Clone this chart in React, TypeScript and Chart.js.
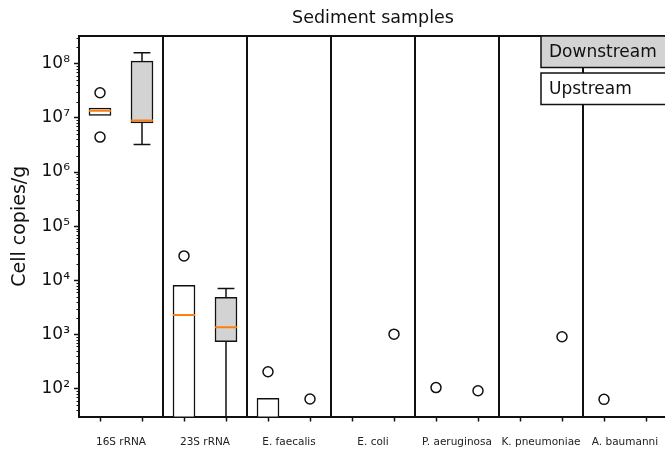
import React, { useEffect, useRef } from 'react';
import { Chart, registerables } from 'chart.js';

Chart.register(...registerables);

// ---- Data ----
const GROUPS = ['16S rRNA', '23S rRNA', 'E. faecalis', 'E. coli', 'P. aeruginosa', 'K. pneumoniae', 'A. baumanni'];
const SERIES = ['Downstream', 'Upstream'];

// Upstream (left box in each group); 1 = below the visible axis range
const UP_Q1 = [1.11e7, 1, 1, null, null, null, null];
const UP_MEDIAN = [1.35e7, 2.27e3, 20, null, null, null, null];
const UP_Q3 = [1.52e7, 8.1e3, 66, null, null, null, null];
const UP_WHISKER_LOW = [1.11e7, 1, 1, null, null, null, null];
const UP_WHISKER_HIGH = [1.52e7, 8.1e3, 66, null, null, null, null];
const UP_FLIERS = [[2.92e7, 4.42e6], [2.82e4], [204], [], [104], [], [63]];

// Downstream (right box in each group)
const DOWN_Q1 = [8.09e6, 730, null, null, null, null, null];
const DOWN_MEDIAN = [9.0e6, 1.35e3, null, null, null, null, null];
const DOWN_Q3 = [1.12e8, 4.82e3, null, null, null, null, null];
const DOWN_WHISKER_LOW = [3.24e6, 1, null, null, null, null, null];
const DOWN_WHISKER_HIGH = [1.6e8, 7.06e3, null, null, null, null, null];
const DOWN_FLIERS = [[], [], [64], [1.01e3], [91], [903], []];

const Y_TICKS = [1e2, 1e3, 1e4, 1e5, 1e6, 1e7, 1e8];
const Y_MIN = 30.4;
const Y_MAX = 3.26e8;

// ---- Styling ----
const FONT = "'DejaVu Sans', sans-serif";
const INK = '#111111';
const GREY = '#d3d3d3';
const ORANGE = '#ff7f0e';
const BOX_HALF = 0.26;
const CAP_HALF = 0.2;

const SUP: Record<string, string> = { '0': '⁰', '1': '¹', '2': '²', '3': '³', '4': '⁴', '5': '⁵', '6': '⁶', '7': '⁷', '8': '⁸', '9': '⁹', '-': '⁻' };
const sup = (n: number) => String(n).split('').map((c) => SUP[c] || c).join('');

type Series = {
  offset: number;
  fill: string;
  q1: (number | null)[];
  med: (number | null)[];
  q3: (number | null)[];
  wlo: (number | null)[];
  whi: (number | null)[];
  fliers: number[][];
};

const SERIES_DEF: Series[] = [
  { offset: 0.5, fill: '#ffffff', q1: UP_Q1, med: UP_MEDIAN, q3: UP_Q3, wlo: UP_WHISKER_LOW, whi: UP_WHISKER_HIGH, fliers: UP_FLIERS },
  { offset: 1.5, fill: GREY, q1: DOWN_Q1, med: DOWN_MEDIAN, q3: DOWN_Q3, wlo: DOWN_WHISKER_LOW, whi: DOWN_WHISKER_HIGH, fliers: DOWN_FLIERS },
];

function buildDatasets() {
  const datasets: any[] = [];
  const medians: any[] = [];
  const whiskers: any[] = [];
  const fliers: any[] = [];
  SERIES_DEF.forEach((s) => {
    const boxes: any[] = [];
    GROUPS.forEach((_, i) => {
      const p = 2 * i + s.offset;
      s.fliers[i].forEach((v) => fliers.push({ x: p, y: v }));
      const q1 = s.q1[i], q3 = s.q3[i], med = s.med[i], wlo = s.wlo[i], whi = s.whi[i];
      if (q1 == null || q3 == null) return;
      boxes.push({ x: p, y: [q1, q3] });
      if (med != null) medians.push({ x: p - BOX_HALF, y: med }, { x: p + BOX_HALF, y: med }, { x: p, y: null });
      if (whi != null && whi > q3) {
        whiskers.push({ x: p, y: q3 }, { x: p, y: whi }, { x: p, y: null });
        whiskers.push({ x: p - CAP_HALF, y: whi }, { x: p + CAP_HALF, y: whi }, { x: p, y: null });
      }
      if (wlo != null && wlo < q1) {
        whiskers.push({ x: p, y: q1 }, { x: p, y: wlo }, { x: p, y: null });
        whiskers.push({ x: p - CAP_HALF, y: wlo }, { x: p + CAP_HALF, y: wlo }, { x: p, y: null });
      }
    });
    datasets.push({
      type: 'bar',
      data: boxes,
      backgroundColor: s.fill,
      borderColor: INK,
      borderWidth: 1.5,
      borderSkipped: false,
      barThickness: 22,
      grouped: false,
      order: 2,
    });
  });
  datasets.push({
    type: 'line',
    data: medians,
    borderColor: ORANGE,
    borderWidth: 2,
    pointRadius: 0,
    spanGaps: false,
    order: 1,
  });
  datasets.push({
    type: 'line',
    data: whiskers,
    borderColor: INK,
    borderWidth: 1.5,
    pointRadius: 0,
    spanGaps: false,
    order: 3,
  });
  datasets.push({
    type: 'scatter',
    data: fliers,
    pointRadius: 5,
    pointBackgroundColor: '#ffffff',
    pointBorderColor: INK,
    pointBorderWidth: 1.5,
    order: 0,
  });
  return datasets;
}

const framePlugin = {
  id: 'frameAndLegend',
  afterDraw(chart: any) {
    const { ctx, chartArea: a, scales } = chart;
    const y = scales.y;
    ctx.save();
    // top & right frame
    ctx.strokeStyle = INK;
    ctx.lineWidth = 2;
    ctx.beginPath();
    ctx.moveTo(a.left, a.top);
    ctx.lineTo(a.right, a.top);
    ctx.lineTo(a.right, a.bottom);
    ctx.stroke();
    // minor log ticks
    ctx.lineWidth = 1;
    ctx.beginPath();
    for (let n = 0; n <= 9; n++) {
      for (let k = 2; k <= 9; k++) {
        const v = k * Math.pow(10, n);
        if (v <= Y_MIN || v >= Y_MAX) continue;
        const py = Math.round(y.getPixelForValue(v)) + 0.5;
        ctx.moveTo(a.left - 2.5, py);
        ctx.lineTo(a.left, py);
      }
    }
    ctx.stroke();
    // legend boxes
    const fills = [GREY, '#ffffff'];
    const left = 541;
    const boxH = 31.5;
    const gap = 5.5;
    ctx.font = `17px ${FONT}`;
    ctx.textBaseline = 'middle';
    ctx.textAlign = 'left';
    SERIES.forEach((label, i) => {
      const top = a.top + i * (boxH + gap);
      ctx.fillStyle = fills[i];
      ctx.fillRect(left, top, a.right + 20 - left, boxH);
      ctx.lineWidth = 1.5;
      ctx.strokeStyle = INK;
      ctx.strokeRect(left, top, a.right + 20 - left, boxH);
      ctx.fillStyle = INK;
      ctx.fillText(label, left + 8, top + boxH / 2 + 1);
    });
    ctx.restore();
  },
};

function kind(v: number) {
  const r = ((v % 2) + 2) % 2;
  if (Math.abs(r - 1) < 1e-6) return 'label';
  if (Math.abs(r) < 1e-6) return 'sep';
  return 'pos';
}

export default function App() {
  const ref = useRef<HTMLCanvasElement | null>(null);
  useEffect(() => {
    document.body.style.overflow = 'hidden';
    document.documentElement.style.overflow = 'hidden';
    const canvas = ref.current;
    if (!canvas) return;
    const chart = new Chart(canvas, {
      type: 'scatter',
      data: { datasets: buildDatasets() },
      plugins: [framePlugin],
      options: {
        responsive: false,
        animation: false,
        devicePixelRatio: 1,
        layout: { padding: { left: 0, right: 13, top: 0, bottom: 0 } },
        plugins: {
          legend: { display: false },
          tooltip: { enabled: false },
          title: {
            display: true,
            text: 'Sediment samples',
            fullSize: false,
            color: INK,
            font: { family: FONT, size: 17.5, weight: 'normal' },
            padding: { top: 8, bottom: 7 },
          },
        },
        scales: {
          x: {
            type: 'linear',
            min: 0,
            max: 2 * GROUPS.length,
            offset: false,
            afterBuildTicks: (scale: any) => {
              const t: any[] = [];
              for (let i = 0; i < GROUPS.length; i++) {
                t.push({ value: 2 * i + 0.5 }, { value: 2 * i + 1 }, { value: 2 * i + 1.5 });
                if (i < GROUPS.length - 1) t.push({ value: 2 * i + 2 });
              }
              scale.ticks = t;
            },
            afterFit: (scale: any) => {
              scale.height = 33.5;
            },
            ticks: {
              autoSkip: false,
              maxRotation: 0,
              minRotation: 0,
              padding: 14,
              color: '#222222',
              font: { family: FONT, size: 10.5 },
              callback: (value: any) => (kind(Number(value)) === 'label' ? GROUPS[(Number(value) - 1) / 2] : ''),
            },
            grid: {
              offset: false,
              drawOnChartArea: true,
              drawTicks: true,
              tickLength: 5,
              color: (c: any) => (c.tick && kind(c.tick.value) === 'sep' ? INK : 'rgba(0,0,0,0)'),
              lineWidth: (c: any) => (c.tick && kind(c.tick.value) === 'sep' ? 2 : 1),
              tickColor: (c: any) => (c.tick && kind(c.tick.value) === 'pos' ? INK : 'rgba(0,0,0,0)'),
              tickWidth: 1.5,
            },
            border: { display: true, color: INK, width: 2 },
          },
          y: {
            type: 'logarithmic',
            min: Y_MIN,
            max: Y_MAX,
            afterBuildTicks: (scale: any) => {
              scale.ticks = Y_TICKS.map((v) => ({ value: v }));
            },
            afterFit: (scale: any) => {
              scale.width = 79;
            },
            ticks: {
              autoSkip: false,
              padding: 4,
              color: INK,
              font: { family: FONT, size: 17 },
              callback: (value: any) => '10' + sup(Math.round(Math.log10(Number(value)))),
            },
            grid: {
              drawOnChartArea: false,
              drawTicks: true,
              tickLength: 5,
              tickColor: INK,
              tickWidth: 1.5,
            },
            border: { display: true, color: INK, width: 2 },
            title: {
              display: true,
              text: 'Cell copies/g',
              color: INK,
              font: { family: FONT, size: 19 },
              padding: { top: 9, bottom: 0 },
            },
          },
        },
      } as any,
    });
    return () => chart.destroy();
  }, []);
  return (
    <canvas
      ref={ref}
      width={680}
      height={450}
      style={{ display: 'block', position: 'fixed', left: 0, top: 0 }}
    />
  );
}
